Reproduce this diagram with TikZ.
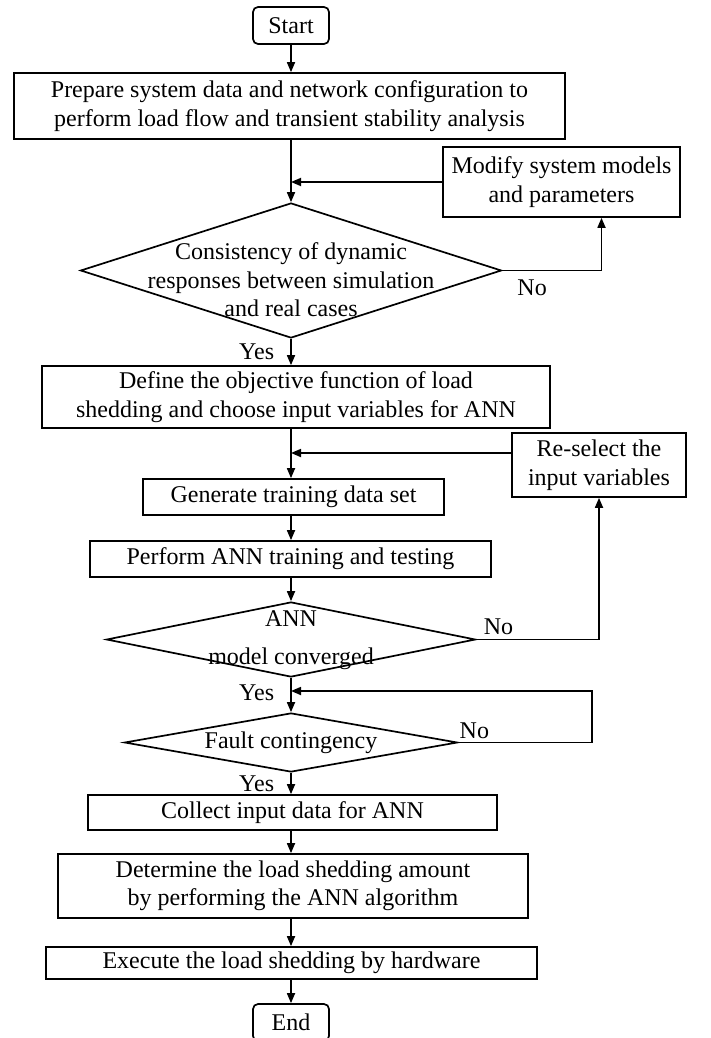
\documentclass[tikz,border=0pt]{standalone}
\usepackage{fontspec}
\setmainfont{Liberation Serif}
\usetikzlibrary{arrows.meta,shapes.geometric}

\begin{document}
\begin{tikzpicture}[x=1pt,y=-1pt,>={Triangle[length=10pt,width=8pt]},
	every node/.style={font=\fontsize{24}{28.5}\selectfont,align=center,inner sep=2pt},
	block/.style={draw,line width=1.7pt},
	term/.style={block,rounded corners=5pt,minimum width=76pt,minimum height=37pt},
	decision/.style={draw,diamond,line width=1.7pt,inner sep=0pt},
	line/.style={line width=1.7pt}]
	\useasboundingbox (0,0) rectangle (710,1038);
	\node[term]         (start) at (291,25.5) {Start};
	\node[block,minimum width=551pt,minimum height=66pt] (prep) at (289.5,106) {Prepare system data and network configuration to\\perform load flow and transient stability analysis};
	\node[block,minimum width=237pt,minimum height=70pt] (modify) at (561.5,182) {Modify system models\\and parameters};
	\node[decision,minimum width=421pt,minimum height=135pt] (cons) at (291,270.5) {};
	\node (const) at (291,280) {Consistency of dynamic\\responses between simulation\\and real cases};
	\node[block,minimum width=508pt,minimum height=62pt] (define) at (296,397) {Define the objective function of load\\shedding and choose input variables for ANN};
	\node[block,minimum width=174pt,minimum height=64pt] (reselect) at (599,465) {Re-select the\\input variables};
	\node[block,minimum width=301pt,minimum height=36pt] (gen) at (293.5,497) {Generate training data set};
	\node[block,minimum width=401pt,minimum height=36pt] (train) at (290.5,559) {Perform ANN training and testing};
	\node[decision,minimum width=369pt,minimum height=75pt] (conv) at (291,639.5) {};
	\node (convt) at (291,640) {ANN\\[10pt]model converged};
	\node[decision,minimum width=333pt,minimum height=59pt] (fault) at (291,742.5) {};
	\node (faultt) at (291,743) {Fault contingency};
	\node[block,minimum width=409pt,minimum height=35pt] (collect) at (292.5,812.5) {Collect input data for ANN};
	\node[block,minimum width=470pt,minimum height=64pt] (amount) at (293,886) {Determine the load shedding amount\\by performing the ANN algorithm};
	\node[block,minimum width=491pt,minimum height=32pt] (exec) at (291.5,963) {Execute the load shedding by hardware};
	\node[term]         (end) at (291,1022.5) {End};
	\coordinate (loop) at (592,691);

	\draw[->,line] (start) -- (start |- prep.north);
	\draw[->,line] (start |- prep.south) -- (cons.north);
	\draw[->,line] (modify.west) -- (modify.west -| cons.north);
	\draw[->,line] (cons.east) -| node[pos=0.15,below=6pt] {No} ([xshift=40pt]modify.south);
	\draw[->,line] (cons.south) -- (cons.south |- define.north) node[midway,left=14pt] {Yes};
	\draw[->,line] (cons.south |- define.south) -- (cons.south |- gen.north);
	\draw[->,line] ([yshift=12pt]reselect.west) -- ([yshift=12pt]reselect.west -| cons.south);
	\draw[->,line] (conv.east) -| node[pos=0.09,above=2pt] {No} (reselect.south);
	\draw[->,line] (cons.south |- gen.south) -- (cons.south |- train.north);
	\draw[->,line] (cons.south |- train.south) -- (conv.north);
	\draw[->,line] (conv.south) -- (fault.north) node[pos=0.42,left=14pt] {Yes};
	\draw[->,line] (fault.east) -| node[pos=0.06,above=1pt] {No} (loop) -- (loop -| fault.north);
	\draw[->,line] (fault.south) -- (fault.south |- collect.north) node[midway,left=14pt] {Yes};
	\draw[->,line] (fault.south |- collect.south) -- (fault.south |- amount.north);
	\draw[->,line] (fault.south |- amount.south) -- (fault.south |- exec.north);
	\draw[->,line] (exec.south -| end.north) -- (end.north);
\end{tikzpicture}
\end{document}
